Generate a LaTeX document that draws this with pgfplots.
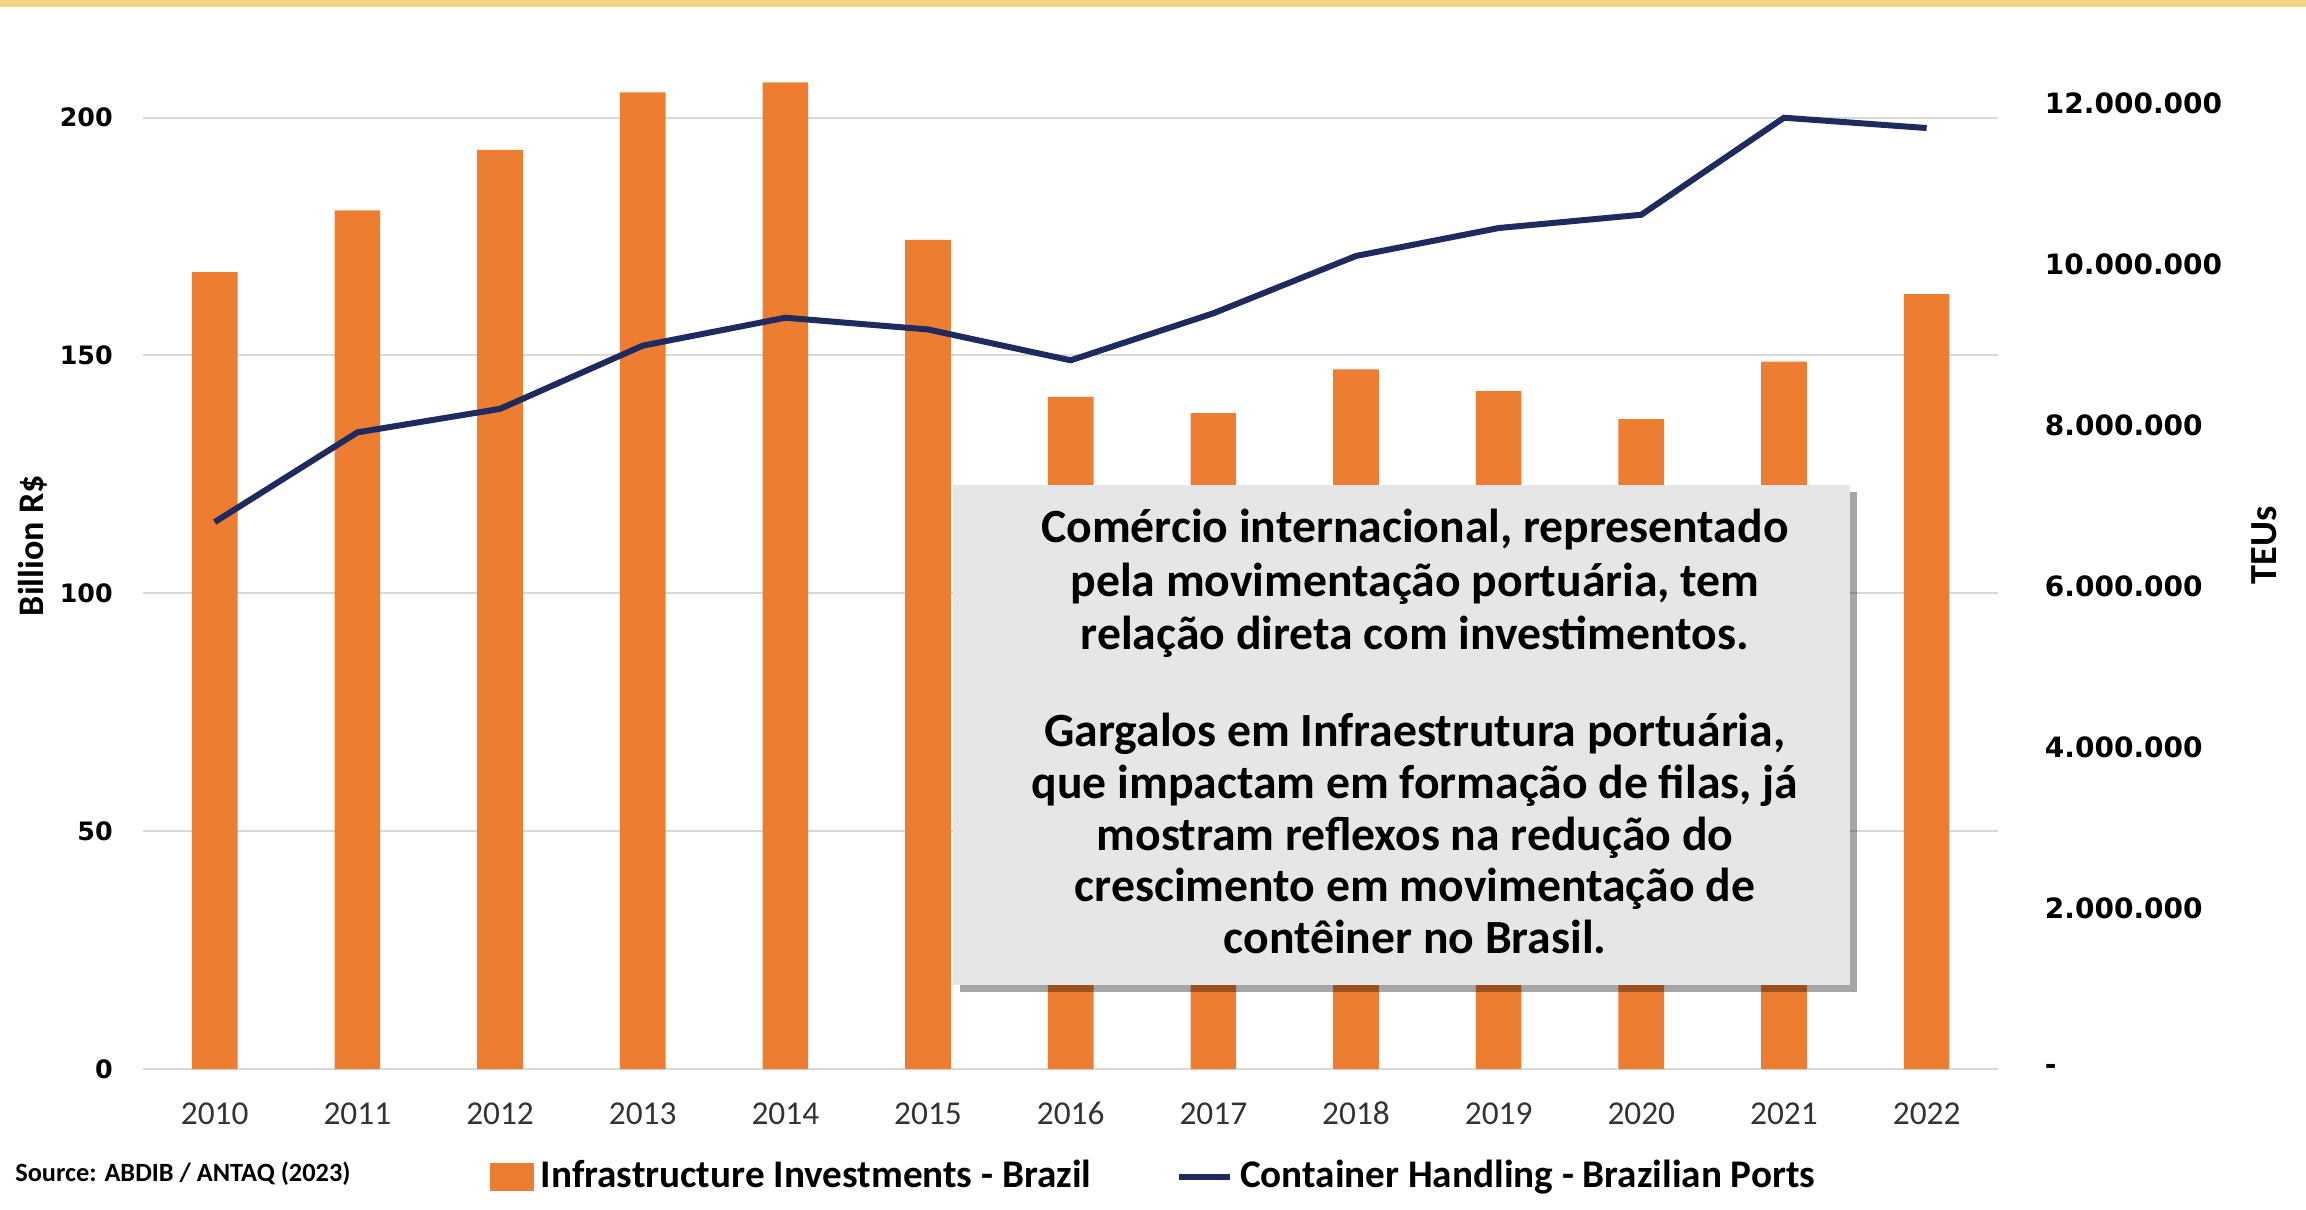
\documentclass[border=0pt]{standalone}
\usepackage{fontspec}
\setmainfont{Carlito}
\newfontfamily\dejavu{DejaVu Sans}
\usepackage{pgfplots}
\pgfplotsset{compat=1.18}
\usetikzlibrary{shadows}
\definecolor{barorange}{HTML}{ED7D31}
\definecolor{navy}{HTML}{1F2A5E}
\definecolor{gridgray}{HTML}{D9D9D9}
\definecolor{boxgray}{HTML}{E6E6E6}
\definecolor{gold}{HTML}{EDD483}
\begin{document}
\begin{tikzpicture}
\path[use as bounding box] (0,0) rectangle (691.8pt,363pt);
\fill[gold] (0,360.9pt) rectangle (691.8pt,363pt);
\begin{axis}[
  at={(43.02pt,42.24pt)}, anchor=south west,
  scale only axis, width=556.37pt, height=299.76pt,
  xmin=-0.5, xmax=12.5, ymin=0, ymax=210,
  ybar, bar width=13.7pt,
  axis line style={draw=none}, tick style={draw=none},
  xtick pos=bottom, ytick pos=left,
  ytick={0,50,100,150,200}, yticklabels={0,50,100,150,200},
  ymajorgrids, grid style={gridgray, line width=0.6pt},
  xtick={0,1,2,3,4,5,6,7,8,9,10,11,12},
  xticklabels={2010,2011,2012,2013,2014,2015,2016,2017,2018,2019,2020,2021,2022},
  yticklabel style={font=\dejavu\bfseries\fontsize{7.6}{9}\selectfont, anchor=east, inner sep=0pt, xshift=-9pt},
  xticklabel style={font=\fontsize{10}{11}\selectfont, text=black!80, anchor=center, inner sep=0pt, yshift=-9pt},
]
\addplot[fill=barorange, draw=none] coordinates {
  (0,167.5) (1,180.5) (2,193.2) (3,205.3) (4,207.4) (5,174.3) (6,141.3)
  (7,137.9) (8,147.1) (9,142.5) (10,136.6) (11,148.7) (12,162.9)};
\end{axis}
\begin{axis}[
  at={(43.02pt,42.24pt)}, anchor=south west,
  scale only axis, width=556.37pt, height=299.76pt,
  xmin=-0.5, xmax=12.5, ymin=0, ymax=12.41e6,
  hide x axis,
  axis y line*=right, axis line style={draw=none}, tick style={draw=none},
  scaled y ticks=false,
  ytick={0,2000000,4000000,6000000,8000000,10000000,12000000},
  yticklabels={-,2.000.000,4.000.000,6.000.000,8.000.000,10.000.000,12.000.000},
  yticklabel style={font=\dejavu\bfseries\fontsize{8.4}{10}\selectfont, anchor=west, inner sep=0pt, xshift=13.9pt},
  legend columns=2,
  legend style={at={(0.5460,-0.1074)}, anchor=center, draw=none, fill=none,
    font=\bfseries\fontsize{11.75}{13}\selectfont,
    /tikz/every even column/.append style={column sep=23.4pt}},
]
\addlegendimage{legend image code/.code={\fill[barorange] (0pt,-4pt) rectangle (12.8pt,4pt);}}
\addlegendentry{Infrastructure Investments - Brazil}
\addplot[navy, line width=1.8pt, mark=none,
  legend image code/.code={\draw[navy, line width=1.8pt] (0pt,0pt) -- (15.4pt,0pt);}] coordinates {
  (0,6795000) (1,7909000) (2,8201000) (3,8986000) (4,9333000) (5,9187000) (6,8804000)
  (7,9388000) (8,10100000) (9,10447000) (10,10612000) (11,11817000) (12,11689000)};
\addlegendentry{Container Handling - Brazilian Ports}
\end{axis}
\node[rotate=90, font=\bfseries\fontsize{10.8}{12}\selectfont] at (9.7pt,199.3pt) {Billion R\$};
\node[rotate=90, font=\bfseries\fontsize{11.5}{13}\selectfont] at (679.2pt,199.3pt) {TEUs};
\node[anchor=west, inner sep=0pt, font=\bfseries\fontsize{7.9}{9}\selectfont] at (4.4pt,11pt) {Source: ABDIB / ANTAQ (2023)};
\node[fill=boxgray, drop shadow={shadow xshift=2pt, shadow yshift=-2pt, fill=black, opacity=0.35},
  minimum width=269.1pt, minimum height=150pt, inner sep=0pt] at (420.45pt,142.4pt) {};
\node[inner sep=0pt, align=center, font=\bfseries\fontsize{14.3}{16.1}\selectfont] at (424.5pt,143.6pt)
  {Comércio internacional, representado\\pela movimentação portuária, tem\\relação direta com investimentos.\\[13pt]
   Gargalos em Infraestrutura portuária,\\[-0.6pt]que impactam em formação de filas, já\\[-0.6pt]mostram reflexos na redução do\\[-0.6pt]crescimento em movimentação de\\[-0.6pt]contêiner no Brasil.};
\end{tikzpicture}
\end{document}
